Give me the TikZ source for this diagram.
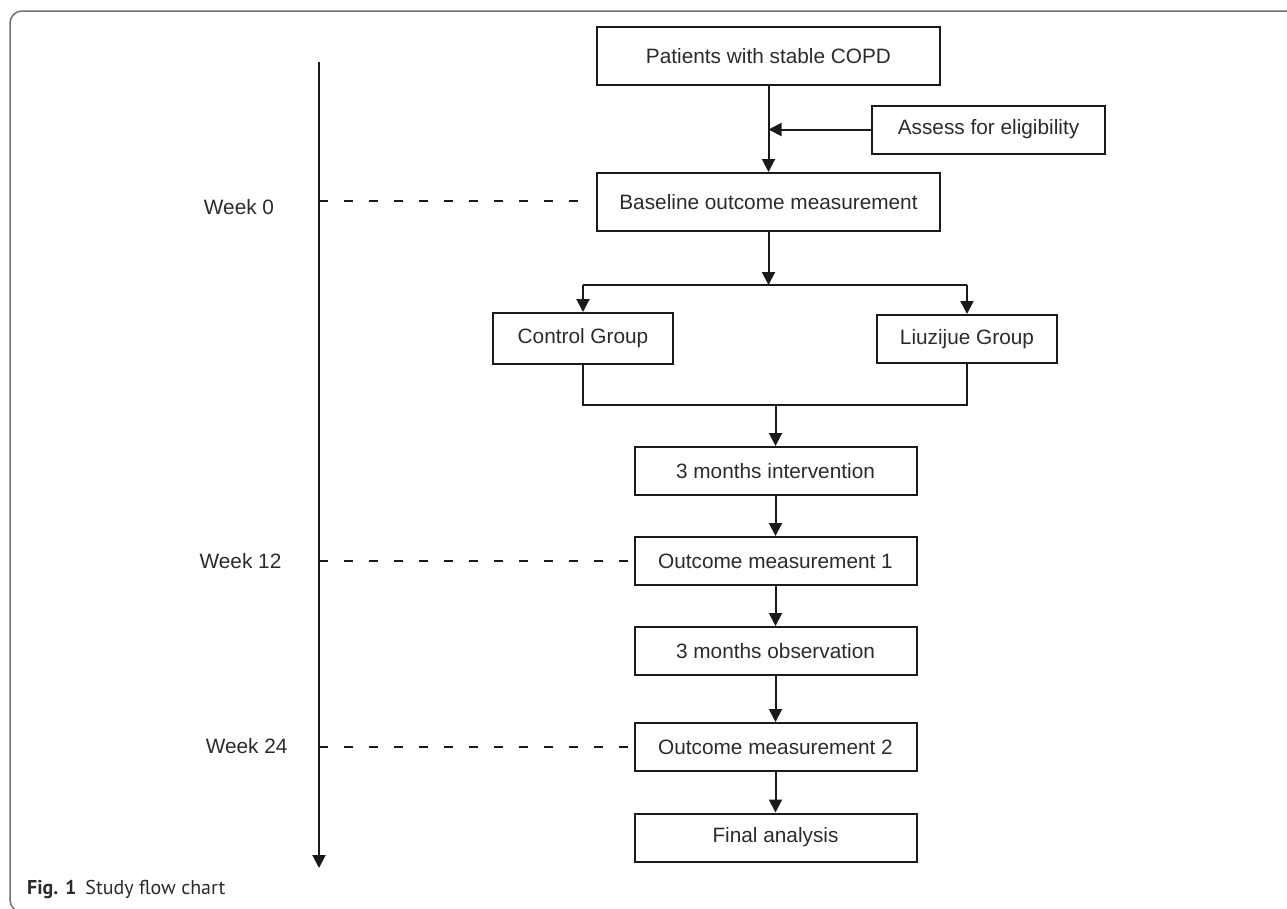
\documentclass[tikz,border=0pt]{standalone}
\usepackage{fontspec}
\setmainfont{Liberation Sans}
\newfontfamily\capfont{PT Sans}
\usetikzlibrary{arrows.meta}
\definecolor{ink}{HTML}{1A1A1A}
\definecolor{txt}{HTML}{2B2B2B}
\definecolor{framecol}{HTML}{707070}
\begin{document}
\begin{tikzpicture}[x=1pt,y=-1pt,
  box/.style={draw=ink,line width=2pt,text=txt,font=\fontsize{20.8}{24}\selectfont,inner sep=0pt,anchor=center},
  conn/.style={draw=ink,line width=2pt},
  arr/.style={conn,-{Triangle[length=13pt,width=13pt]}},
  dashline/.style={draw=ink,line width=1.6pt,dash pattern=on 9pt off 16pt},
  week/.style={text=txt,font=\fontsize{20.8}{24}\selectfont,inner sep=0pt}]
\useasboundingbox (0,0) rectangle (1287,908);
\clip (0,0) rectangle (1287,908);
% frame
\draw[framecol,line width=1.5pt,rounded corners=12pt] (1320,11) -- (10,11) -- (10,912) -- (1320,912);
% nodes
\node[box,minimum width=343pt,minimum height=58pt] (patients) at (768.5,56) {Patients with stable COPD};
\node[box,minimum width=233pt,minimum height=48pt] (assess) at (988.5,129.5) {Assess for eligibility};
\node[box,minimum width=343pt,minimum height=58pt] (baseline) at (768.5,202) {Baseline outcome measurement};
\node[box,minimum width=180pt,minimum height=51pt] (control) at (583,338.5) {Control Group};
\node[box,minimum width=180pt,minimum height=48pt] (liuzijue) at (967,339) {Liuzijue Group};
\node[box,minimum width=282pt,minimum height=48pt] (interv) at (775.5,471) {3 months intervention};
\node[box,minimum width=282pt,minimum height=48pt] (om1) at (775.5,561) {Outcome measurement 1};
\node[box,minimum width=282pt,minimum height=48pt] (obs) at (775.5,651) {3 months observation};
\node[box,minimum width=282pt,minimum height=48pt] (om2) at (775.5,747) {Outcome measurement 2};
\node[box,minimum width=282pt,minimum height=48pt] (final) at (775.5,837.5) {Final analysis};
\node[week] (wk0) at (239,207) {Week 0};
\node[week] (wk12) at (240.5,561) {Week 12};
\node[week] (wk24) at (246.7,746) {Week 24};
\node[anchor=west,inner sep=0pt,text=txt] (cap) at (27,889) {\capfont\fontsize{20}{22}\selectfont\textbf{Fig. 1}\hspace{9pt}Study flow chart};
% coordinates
\coordinate (tltop) at (319,62);
\coordinate (tlend) at (319,868);
\coordinate (join1) at (768.5,129.5);
\coordinate (split) at (768.5,285);
\coordinate (sl) at (583,285);
\coordinate (sr) at (967,285);
\coordinate (jl) at (583,405);
\coordinate (jr) at (967,405);
\coordinate (jm) at (775.5,405);
\coordinate (w0) at (319,201);
\coordinate (w0e) at (582,201);
\coordinate (w12) at (319,561);
\coordinate (w24) at (319,747);
% connectors
\draw[arr] (tltop) -- (tlend);
\draw[arr] (patients) -- (baseline);
\draw[arr] (assess.west) -- (join1);
\draw[arr] (baseline) -- (split);
\draw[conn] (sl) -- (sr);
\draw[arr] (sl) -- (control.north);
\draw[arr] (sr) -- (liuzijue.north);
\draw[conn] (control.south) -- (jl) -- (jr) -- (liuzijue.south);
\draw[arr] (jm) -- (interv);
\draw[arr] (interv) -- (om1);
\draw[arr] (om1) -- (obs);
\draw[arr] (obs) -- (om2);
\draw[arr] (om2) -- (final);
\draw[dashline] (w0) -- (w0e);
\draw[dashline] (w12) -- (om1.west);
\draw[dashline] (w24) -- (om2.west);
\end{tikzpicture}
\end{document}
